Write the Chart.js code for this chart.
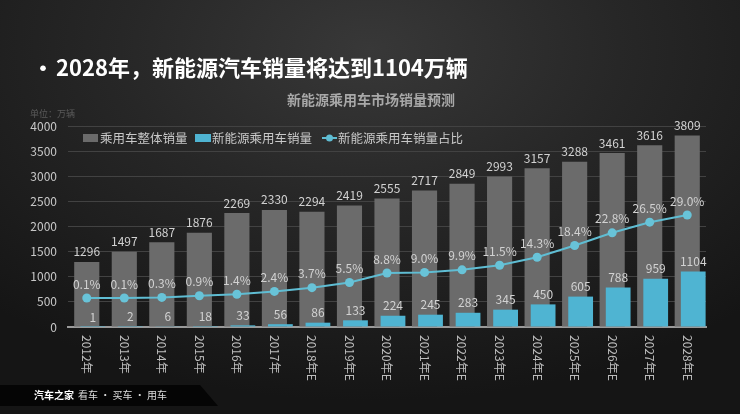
<!DOCTYPE html>
<html>
<head>
<meta charset="utf-8">
<script src="https://cdn.jsdelivr.net/npm/chart.js@4.4.1/dist/chart.umd.min.js"></script>
<style>
html, body { margin: 0; padding: 0; width: 740px; height: 414px; overflow: hidden; }
body { background: radial-gradient(ellipse 75% 85% at 50% 12%, #383838 0%, #272727 45%, #151515 100%); }
canvas { display: block; }
</style>
</head>
<body>
<canvas id="salesChart" width="740" height="414"></canvas>
<script>
const years = ['2012年', '2013年', '2014年', '2015年', '2016年', '2017年', '2018年E', '2019年E', '2020年E',
    '2021年E', '2022年E', '2023年E', '2024年E', '2025年E', '2026年E', '2027年E', '2028年E'];
const totalSales = [1296, 1497, 1687, 1876, 2269, 2330, 2294, 2419, 2555, 2717, 2849, 2993, 3157, 3288, 3461, 3616, 3809];
const nevSales = [1, 2, 6, 18, 33, 56, 86, 133, 224, 245, 283, 345, 450, 605, 788, 959, 1104];
const nevShare = [0.1, 0.1, 0.3, 0.9, 1.4, 2.4, 3.7, 5.5, 8.8, 9.0, 9.9, 11.5, 14.3, 18.4, 22.8, 26.5, 29.0];

const FONT = "'Noto Sans CJK SC', 'Noto Sans', sans-serif";
const BLUE_SHIFT = 6;
Chart.defaults.font.family = FONT;

// blue bars sit a little to the right of the gray ones
const shiftBlue = {
    id: 'shiftBlue',
    beforeDatasetDraw(chart, args) {
        if (args.index === 1) { chart.ctx.save(); chart.ctx.translate(BLUE_SHIFT, 0); }
    },
    afterDatasetDraw(chart, args) {
        if (args.index === 1) chart.ctx.restore();
    }
};

const valueLabels = {
    id: 'valueLabels',
    afterDatasetsDraw(chart) {
        const ctx = chart.ctx;
        ctx.save();
        ctx.font = '12px ' + FONT;
        ctx.fillStyle = '#d2d2d2';
        ctx.textAlign = 'center';
        ctx.textBaseline = 'middle';
        chart.getDatasetMeta(0).data.forEach((bar, i) => {
            ctx.fillText(totalSales[i], bar.x, bar.y - 10);
        });
        chart.getDatasetMeta(1).data.forEach((bar, i) => {
            ctx.fillText(nevSales[i], bar.x + BLUE_SHIFT, bar.y - 10);
        });
        chart.getDatasetMeta(2).data.forEach((pt, i) => {
            ctx.fillText(nevShare[i].toFixed(1) + '%', pt.x, pt.y - 14);
        });
        ctx.restore();
    }
};

const decorations = {
    id: 'decorations',
    afterDraw(chart) {
        const ctx = chart.ctx;
        const area = chart.chartArea;
        const xs = chart.scales.x;
        ctx.save();

        // headline + subtitle
        ctx.fillStyle = '#ffffff';
        ctx.font = 'bold 22px ' + FONT;
        ctx.textBaseline = 'middle';
        ctx.textAlign = 'left';
        ctx.fillText('•', 32, 68);
        ctx.fillText('2028年，新能源汽车销量将达到1104万辆', 56, 68);
        ctx.fillStyle = '#a8a8a8';
        ctx.font = 'bold 14px ' + FONT;
        ctx.textAlign = 'center';
        ctx.fillText('新能源乘用车市场销量预测', 371, 100);

        ctx.fillStyle = '#5a5a5a';
        ctx.font = '9px ' + FONT;
        ctx.textAlign = 'left';
        ctx.fillText('单位：万辆', 30, 114);

        // legend inside the plot
        const ly = area.top + 12;
        ctx.font = '12.5px ' + FONT;
        ctx.fillStyle = '#6b6b6b';
        ctx.fillRect(83, ly - 4, 15, 8);
        ctx.fillStyle = '#c8c8c8';
        ctx.fillText(chart.data.datasets[0].label, 100, ly);
        ctx.fillStyle = '#4fb4d2';
        ctx.fillRect(195, ly - 4, 16, 8);
        ctx.fillStyle = '#c8c8c8';
        ctx.fillText(chart.data.datasets[1].label, 212, ly);
        ctx.strokeStyle = '#5fbdd3';
        ctx.lineWidth = 2;
        ctx.beginPath();
        ctx.moveTo(322, ly);
        ctx.lineTo(337, ly);
        ctx.stroke();
        ctx.fillStyle = '#5fbdd3';
        ctx.beginPath();
        ctx.arc(329.5, ly, 3.5, 0, Math.PI * 2);
        ctx.fill();
        ctx.fillStyle = '#c8c8c8';
        ctx.fillText(chart.data.datasets[2].label, 338, ly);

        // vertical year labels
        ctx.font = '12px ' + FONT;
        ctx.fillStyle = '#bdbdbd';
        ctx.textAlign = 'left';
        years.forEach((y, i) => {
            ctx.save();
            ctx.translate(xs.getPixelForValue(i), area.bottom + 8);
            ctx.rotate(Math.PI / 2);
            ctx.fillText(y, 0, 0);
            ctx.restore();
        });

        // footer band
        ctx.fillStyle = '#050505';
        ctx.beginPath();
        ctx.moveTo(0, 385);
        ctx.lineTo(200, 385);
        ctx.lineTo(218, 406);
        ctx.lineTo(0, 406);
        ctx.closePath();
        ctx.fill();
        ctx.fillStyle = '#ffffff';
        ctx.font = 'bold 10px ' + FONT;
        ctx.fillText('汽车之家', 34, 395);
        ctx.fillStyle = '#dddddd';
        ctx.font = '10px ' + FONT;
        ctx.fillText('看车 · 买车 · 用车', 78, 395);
        ctx.restore();
    }
};

const ctx = document.getElementById('salesChart').getContext('2d');

const chart = new Chart(ctx, {
    type: 'bar',
    data: {
        labels: years,
        datasets: [{
            label: '乘用车整体销量',
            data: totalSales,
            backgroundColor: '#6b6b6b',
            grouped: false,
            categoryPercentage: 1,
            barPercentage: 0.67,
            order: 2
        }, {
            label: '新能源乘用车销量',
            data: nevSales,
            backgroundColor: '#4fb4d2',
            grouped: false,
            categoryPercentage: 1,
            barPercentage: 0.66,
            order: 1
        }, {
            type: 'line',
            label: '新能源乘用车销量占比',
            data: nevShare,
            yAxisID: 'y2',
            borderColor: '#5fbdd3',
            borderWidth: 2,
            pointRadius: 4.5,
            pointBackgroundColor: '#68c3d8',
            pointBorderWidth: 0,
            tension: 0,
            order: 0
        }]
    },
    options: {
        responsive: false,
        animation: false,
        layout: { padding: { top: 126, right: 34, bottom: 0, left: 0 } },
        plugins: {
            legend: { display: false },
            tooltip: { enabled: false }
        },
        scales: {
            x: {
                grid: { display: false, drawTicks: false },
                border: { display: true, color: '#9a9a9a', width: 2 },
                ticks: { display: false },
                afterFit: (s) => { s.height = 87; }
            },
            y: {
                min: 0,
                max: 4000,
                ticks: {
                    stepSize: 500,
                    color: '#c8c8c8',
                    font: { size: 12 },
                    padding: 11,
                    callback: (v) => String(v)
                },
                grid: { color: '#424242', drawTicks: false },
                border: { display: false },
                afterFit: (s) => { s.width = 68; }
            },
            y2: {
                display: false,
                min: -10,
                max: 60
            }
        }
    },
    plugins: [shiftBlue, valueLabels, decorations]
});
</script>
</body>
</html>
